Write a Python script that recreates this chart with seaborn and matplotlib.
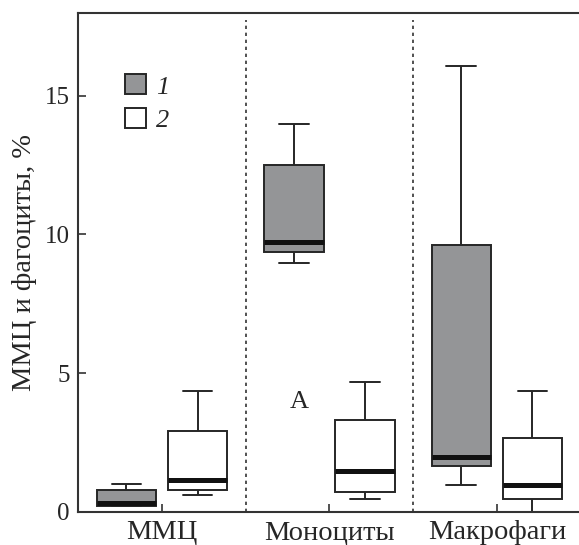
import numpy as np
import pandas as pd
import matplotlib
matplotlib.use("Agg")
import matplotlib.pyplot as plt
import seaborn as sns

# Data: per box [whisker low, Q1, median, Q3, whisker high]
categories = ["ММЦ", "Моноциты", "Макрофаги"]
groups = ["1", "2"]
g1_mmc = [0.21, 0.21, 0.33, 0.78, 0.99]
g2_mmc = [0.60, 0.78, 1.15, 2.91, 4.35]
g1_mono = [8.98, 9.35, 9.74, 12.49, 14.0]
g2_mono = [0.47, 0.72, 1.48, 3.29, 4.67]
g1_macro = [0.98, 1.66, 1.98, 9.62, 16.08]
g2_macro = [0.0, 0.45, 0.98, 2.66, 4.35]
yticks = [0, 5, 10, 15]
ylabel = "ММЦ и фагоциты, %"
annotation = "А"

series = {
    ("ММЦ", "1"): g1_mmc, ("ММЦ", "2"): g2_mmc,
    ("Моноциты", "1"): g1_mono, ("Моноциты", "2"): g2_mono,
    ("Макрофаги", "1"): g1_macro, ("Макрофаги", "2"): g2_macro,
}
rows = []
for (cat, grp), vals in series.items():
    for v in vals:
        rows.append({"cell": cat, "group": grp, "value": v})
df = pd.DataFrame(rows)

sns.set_style("ticks")
plt.rcParams["font.family"] = ["Liberation Serif", "DejaVu Serif"]
plt.rcParams["font.size"] = 18

fig = plt.figure(figsize=(5.79, 5.45), dpi=100)
ax = fig.add_axes([0.1352, 0.0611, 0.8674, 0.9156])

line_col = "#262626"
sns.boxplot(data=df, x="cell", y="value", hue="group", order=categories,
            hue_order=groups, palette={"1": "#939598", "2": "white"},
            width=0.85, gap=0.165, whis=np.inf, showfliers=False,
            linecolor=line_col, linewidth=1.4,
            medianprops=dict(color="#111111", linewidth=3.6),
            ax=ax)

for xv in [0.5, 1.5]:
    ax.axvline(xv, color="#333333", ls=(0, (2, 2.2)), lw=1.2, ymax=0.985)

ax.set_xlim(-0.5, 2.5)
ax.set_ylim(0, 18)
ax.set_yticks(yticks)
ax.set_xlabel("")
ax.set_ylabel(ylabel, fontsize=20.5, labelpad=6)
ax.tick_params(axis="both", direction="in", length=6, width=1.2,
               color="#333333", pad=6)
ax.tick_params(axis="y", labelsize=18)
ax.tick_params(axis="x", labelsize=20.5, pad=6)
for s in ["left", "bottom", "top"]:
    ax.spines[s].set_visible(True)
    ax.spines[s].set_linewidth(1.5)
    ax.spines[s].set_color("#333333")
ax.spines["right"].set_visible(False)

ax.text(0.82, 3.73, annotation, ha="center", va="baseline", fontsize=19)

handles, labels = ax.get_legend_handles_labels()
ax.legend(handles, labels, loc="upper left", bbox_to_anchor=(0.066, 0.903),
          frameon=False, handlelength=0.8, handleheight=0.8,
          handletextpad=0.4, labelspacing=0.35, borderpad=0,
          prop={"family": "Liberation Serif", "style": "italic", "size": 19})

fig.savefig("out.png", dpi=100)
